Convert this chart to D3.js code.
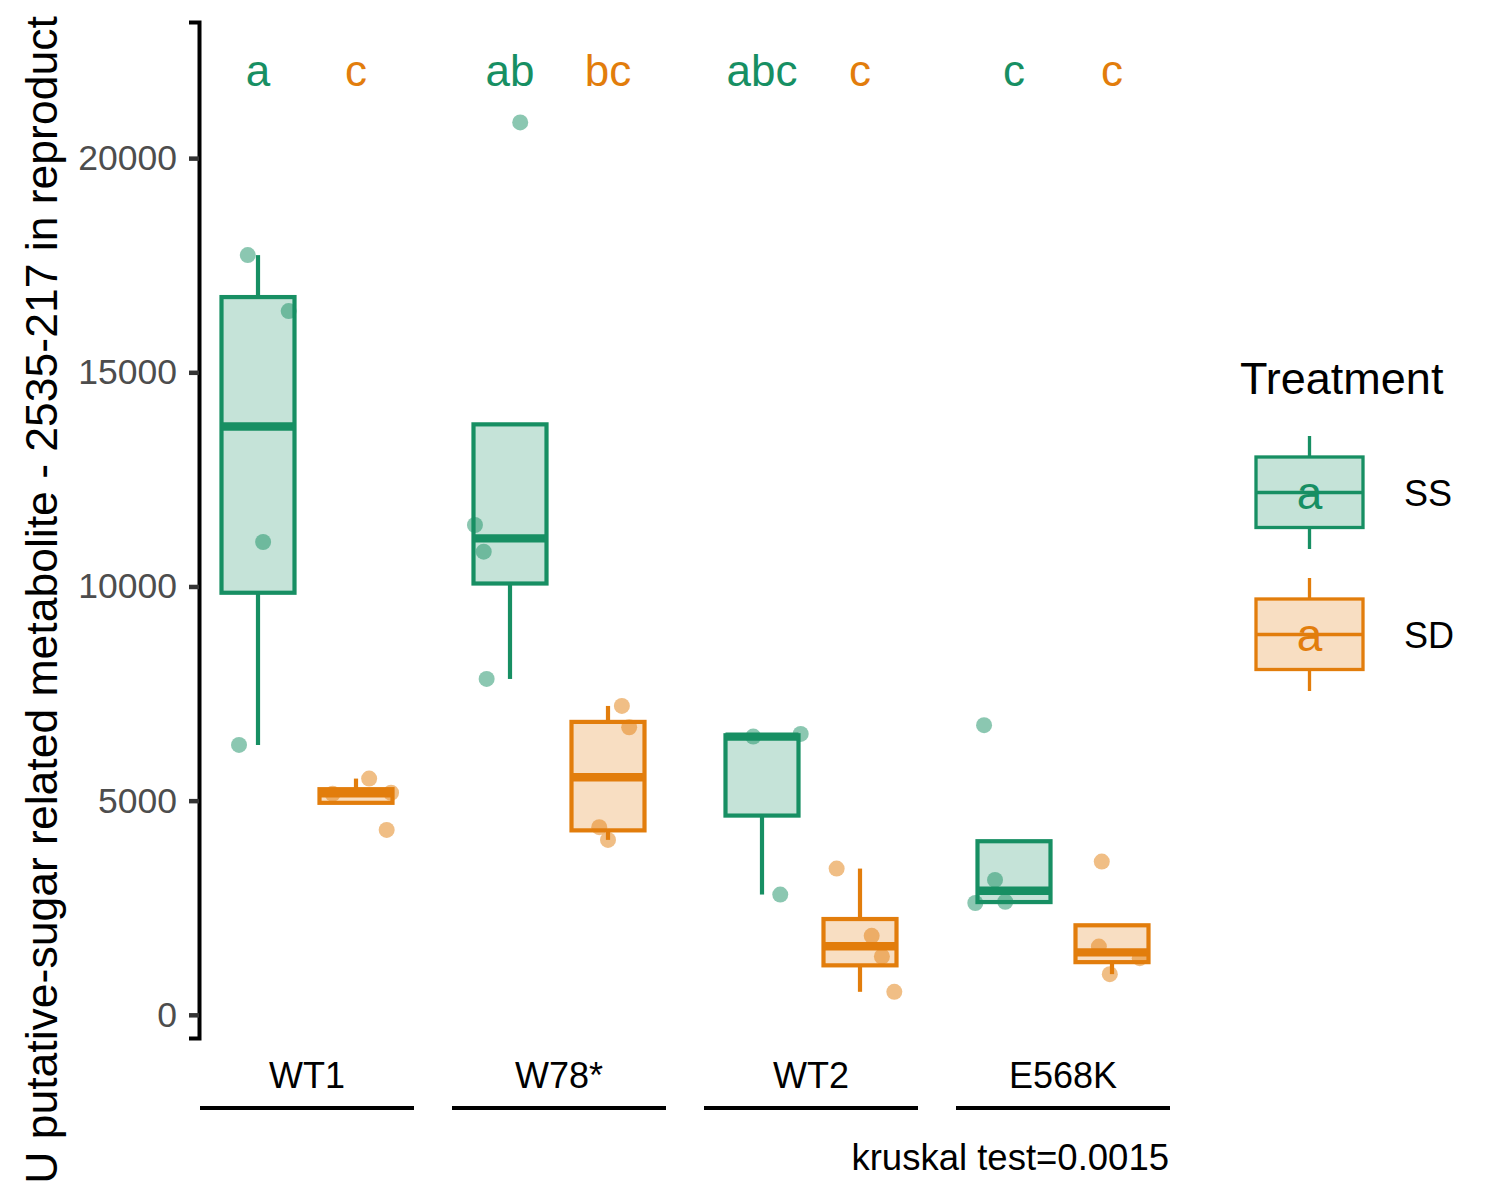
<!DOCTYPE html>
<html><head><meta charset="utf-8">
<script src="https://cdn.jsdelivr.net/npm/d3@7"></script>
<style>body{margin:0;background:#fff} text{font-family:"Liberation Sans",Arial,Helvetica,sans-serif}</style>
</head><body><svg id="c" width="1500" height="1200"></svg>
<script>
// ---- data ----
const genotypes = ["WT1", "W78*", "WT2", "E568K"];
const treatments = ["SS", "SD"];
const ssValues = [[17736, 16430, 11038, 6301], [20834, 11435, 10812, 7841], [6495, 6558, 2808], [6761, 3150, 2610, 2640]];
const ssJitter = [[-0.14, 0.42, 0.07, -0.26], [0.14, -0.48, -0.36, -0.32], [-0.12, 0.53, 0.25], [-0.41, -0.26, -0.53, -0.12]];
const sdValues = [[5160, 5515, 5185, 4317], [7211, 6714, 4380, 4084], [3414, 1844, 1361, 537], [3578, 1594, 1323, 950]];
const sdJitter = [[-0.32, 0.18, 0.48, 0.42], [0.19, 0.29, -0.12, 0.0], [-0.32, 0.16, 0.30, 0.47], [-0.14, -0.18, 0.38, -0.03]];
const ssLetters = ["a", "ab", "abc", "c"];
const sdLetters = ["c", "bc", "c", "c"];
const yTicks = [0, 5000, 10000, 15000, 20000];
const letterY = 22100;
const yTitle = "U putative-sugar related metabolite - 2535-217 in reproduct";
const legendTitle = "Treatment";
const testLabel = "kruskal test=0.0015";

const colors = {SS: "#178F63", SD: "#E27D0C"};
const series = {SS: {values: ssValues, jitter: ssJitter, letters: ssLetters},
                SD: {values: sdValues, jitter: sdJitter, letters: sdLetters}};

// ---- scales ----
const allVals = ssValues.flat().concat(sdValues.flat());
const lo = d3.min(allVals), hi = letterY;
const pad = (hi - lo) * 0.05;
const y = d3.scaleLinear().domain([lo - pad, hi + pad]).range([1038, 22]);
const x = d3.scalePoint().domain(genotypes).range([307, 1063]);
const dodge = d3.scaleBand().domain(treatments).range([-98, 98]);
const boxW = dodge.bandwidth() * 0.745;

const svg = d3.select("#c");

function stats(v) {
  const s = v.slice().sort(d3.ascending);
  const q1 = d3.quantile(s, 0.25), med = d3.quantile(s, 0.5), q3 = d3.quantile(s, 0.75);
  const iqr = q3 - q1;
  const upper = Math.max(q3, d3.max(s.filter(d => d <= q3 + 1.5 * iqr)));
  const lower = Math.min(q1, d3.min(s.filter(d => d >= q1 - 1.5 * iqr)));
  return {q1, med, q3, upper, lower};
}

// ---- points (drawn below boxes) ----
treatments.forEach(t => {
  const S = series[t];
  genotypes.forEach((g, gi) => {
    const cx = x(g) + dodge(t) + dodge.bandwidth() / 2;
    svg.append("g").selectAll("circle").data(S.values[gi]).join("circle")
      .attr("cx", (d, i) => cx + S.jitter[gi][i] * boxW)
      .attr("cy", d => y(d))
      .attr("r", 8)
      .attr("fill", colors[t]).attr("fill-opacity", 0.5);
  });
});

// ---- boxes ----
treatments.forEach(t => {
  const S = series[t];
  genotypes.forEach((g, gi) => {
    const st = stats(S.values[gi]);
    const cx = x(g) + dodge(t) + dodge.bandwidth() / 2;
    const gg = svg.append("g");
    if (st.upper > st.q3)
      gg.append("line").attr("x1", cx).attr("x2", cx).attr("y1", y(st.q3)).attr("y2", y(st.upper))
        .attr("stroke", colors[t]).attr("stroke-width", 4.2);
    if (st.lower < st.q1)
      gg.append("line").attr("x1", cx).attr("x2", cx).attr("y1", y(st.q1)).attr("y2", y(st.lower))
        .attr("stroke", colors[t]).attr("stroke-width", 4.2);
    gg.append("rect").attr("x", cx - boxW / 2).attr("width", boxW)
      .attr("y", y(st.q3)).attr("height", y(st.q1) - y(st.q3))
      .attr("fill", colors[t]).attr("fill-opacity", 0.25)
      .attr("stroke", colors[t]).attr("stroke-width", 4.2);
    gg.append("line").attr("x1", cx - boxW / 2).attr("x2", cx + boxW / 2)
      .attr("y1", y(st.med)).attr("y2", y(st.med))
      .attr("stroke", colors[t]).attr("stroke-width", 8.4);
    // letters
    svg.append("text").attr("x", cx).attr("y", y(letterY) + 18)
      .attr("text-anchor", "middle").attr("font-size", 44).attr("fill", colors[t])
      .text(S.letters[gi]);
  });
});

// ---- y axis ----
const ax = svg.append("g").attr("transform", "translate(199,0)")
  .call(d3.axisLeft(y).tickValues(yTicks).tickSize(10).tickPadding(12).tickFormat(d3.format("d")));
ax.select(".domain").attr("stroke", "#000").attr("stroke-width", 4);
ax.selectAll(".tick line").attr("stroke", "#333").attr("stroke-width", 4.5);
ax.selectAll(".tick text").attr("fill", "#4D4D4D").attr("font-size", 35.5)
  .attr("font-family", '"Liberation Sans",Arial,sans-serif');

// y title
svg.append("text").attr("transform", "translate(57,600) rotate(-90)")
  .attr("text-anchor", "middle").attr("font-size", 44.5).attr("fill", "#000").text(yTitle);

// ---- x group labels & lines ----
genotypes.forEach(g => {
  svg.append("text").attr("x", x(g)).attr("y", 1088).attr("text-anchor", "middle")
    .attr("font-size", 36).attr("fill", "#000").text(g);
  svg.append("line").attr("x1", x(g) - 107).attr("x2", x(g) + 107)
    .attr("y1", 1108).attr("y2", 1108).attr("stroke", "#000").attr("stroke-width", 4);
});
svg.append("text").attr("x", 1169).attr("y", 1170).attr("text-anchor", "end")
  .attr("font-size", 36.5).attr("fill", "#000").text(testLabel);

// ---- legend ----
svg.append("text").attr("x", 1240).attr("y", 394).attr("font-size", 45).attr("fill", "#000").text(legendTitle);
treatments.forEach((t, i) => {
  const oy = i * 142;
  const lg = svg.append("g").attr("transform", `translate(0,${oy})`);
  const kx = 1309.5;
  lg.append("line").attr("x1", kx).attr("x2", kx).attr("y1", 436).attr("y2", 549)
    .attr("stroke", colors[t]).attr("stroke-width", 3.3);
  lg.append("rect").attr("x", 1256).attr("y", 457).attr("width", 107).attr("height", 70.5)
    .attr("fill", "#fff");
  lg.append("rect").attr("x", 1256).attr("y", 457).attr("width", 107).attr("height", 70.5)
    .attr("fill", colors[t]).attr("fill-opacity", 0.25)
    .attr("stroke", colors[t]).attr("stroke-width", 3.3);
  lg.append("line").attr("x1", 1256).attr("x2", 1363).attr("y1", 492.5).attr("y2", 492.5)
    .attr("stroke", colors[t]).attr("stroke-width", 3.3);
  lg.append("text").attr("x", kx).attr("y", 509).attr("text-anchor", "middle")
    .attr("font-size", 46).attr("fill", colors[t]).text("a");
  lg.append("text").attr("x", 1404).attr("y", 506).attr("font-size", 36).attr("fill", "#000").text(t);
});
</script></body></html>
